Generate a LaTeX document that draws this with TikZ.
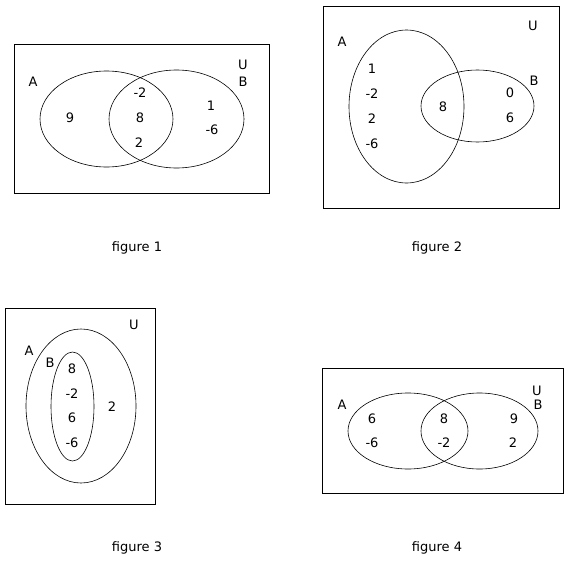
\documentclass[tikz,border=0pt]{standalone}
\usepackage{fontspec}
\setmainfont{DejaVu Sans}
\usepackage{tikz}

\tikzset{
  lbl/.style={font=\fontsize{13}{15}\selectfont, inner sep=0pt},
  venn/.style={draw, line width=0.6pt},
  univ/.style={draw, line width=0.8pt},
}

\begin{document}
\begin{tikzpicture}[x=1pt,y=-1pt]
            \useasboundingbox (0,0) rectangle (568,562);

            % figure 1
            \draw[univ] (14,44) rectangle (269,193);
            \draw[venn] (106.5,119) ellipse [x radius=66.5pt, y radius=48pt];
            \draw[venn] (176.5,119) ellipse [x radius=67.5pt, y radius=49pt];
            \node[lbl] (fa1) at (33,82) {A};
            \node[lbl] (fu1) at (243,65) {U};
            \node[lbl] (fb1) at (243,82) {B};
            \node[lbl] (fa1n9) at (70,118) {9};
            \node[lbl] (fab1m2) at (140,93) {-2};
            \node[lbl] (fab1n8) at (140,118) {8};
            \node[lbl] (fab1n2) at (139,143) {2};
            \node[lbl] (fb1n1) at (211,106) {1};
            \node[lbl] (fb1m6) at (212,130) {-6};
            \node[lbl] (cap1) at (137,248) {figure 1};

            % figure 2
            \draw[univ] (323,6) rectangle (559,208);
            \draw[venn] (406.5,106.5) ellipse [x radius=57.5pt, y radius=76.5pt];
            \draw[venn] (477.5,106) ellipse [x radius=56.5pt, y radius=36pt];
            \node[lbl] (fa2) at (342,42) {A};
            \node[lbl] (fu2) at (533,26) {U};
            \node[lbl] (fb2) at (534,81) {B};
            \node[lbl] (fa2n1) at (372,69) {1};
            \node[lbl] (fa2m2) at (372,94) {-2};
            \node[lbl] (fa2n2) at (372,119) {2};
            \node[lbl] (fa2m6) at (372,144) {-6};
            \node[lbl] (fab2n8) at (443,107) {8};
            \node[lbl] (fb2n0) at (510,93) {0};
            \node[lbl] (fb2n6) at (510,118) {6};
            \node[lbl] (cap2) at (437,248) {figure 2};

            % figure 3
            \draw[univ] (5,308) rectangle (155,504);
            \draw[venn] (81,406) ellipse [x radius=55pt, y radius=77pt];
            \draw[venn] (72.5,406.5) ellipse [x radius=21.5pt, y radius=54.5pt];
            \node[lbl] (fa3) at (29,351) {A};
            \node[lbl] (fb3) at (50,363) {B};
            \node[lbl] (fu3) at (134,325) {U};
            \node[lbl] (fb3n8) at (72,369) {8};
            \node[lbl] (fb3m2) at (72,394) {-2};
            \node[lbl] (fb3n6) at (72,418) {6};
            \node[lbl] (fb3m6) at (72,443) {-6};
            \node[lbl] (fa3n2) at (112,407) {2};
            \node[lbl] (cap3) at (137,548) {figure 3};

            % figure 4
            \draw[univ] (322,368) rectangle (563,493);
            \draw[venn] (408,431) ellipse [x radius=60pt, y radius=38pt];
            \draw[venn] (479.5,431) ellipse [x radius=58.5pt, y radius=38pt];
            \node[lbl] (fa4) at (342,405) {A};
            \node[lbl] (fu4) at (537,391) {U};
            \node[lbl] (fb4) at (538,405) {B};
            \node[lbl] (fa4n6) at (372,419) {6};
            \node[lbl] (fa4m6) at (372,443) {-6};
            \node[lbl] (fab4n8) at (444,419) {8};
            \node[lbl] (fab4m2) at (444,443) {-2};
            \node[lbl] (fb4n9) at (514,419) {9};
            \node[lbl] (fb4n2) at (513,443) {2};
            \node[lbl] (cap4) at (437,548) {figure 4};
\end{tikzpicture}
\end{document}
